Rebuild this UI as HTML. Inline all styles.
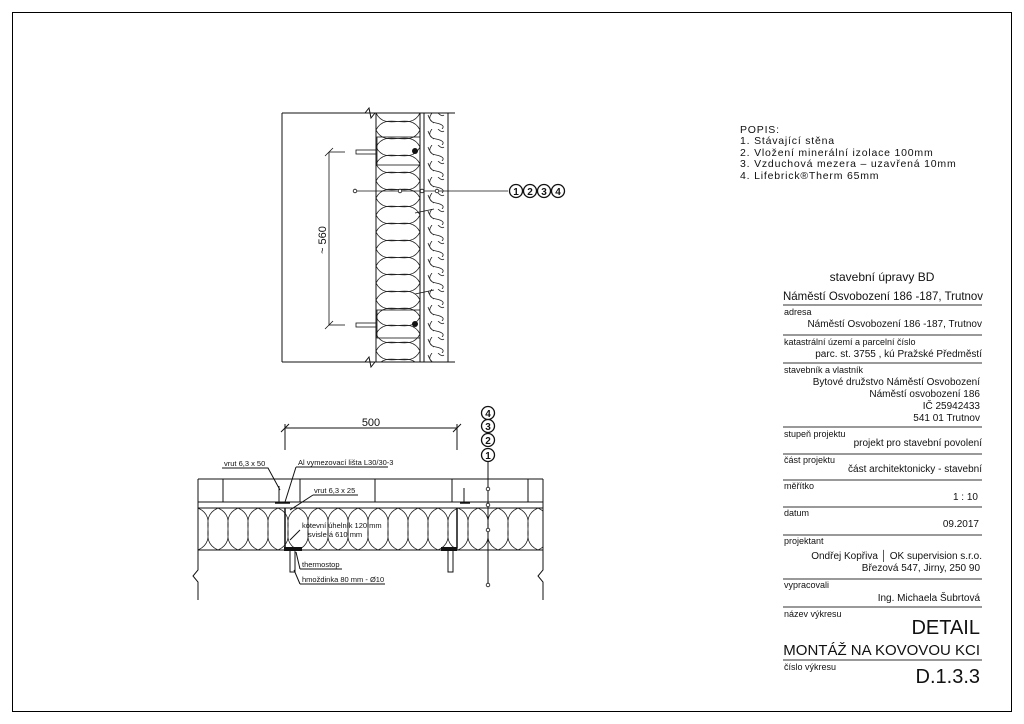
<!DOCTYPE html>
<html><head><meta charset="utf-8"><style>
html,body{margin:0;padding:0;background:#fff}
svg{display:block}
text{font-family:"Liberation Sans",sans-serif;fill:#111}
</style></head><body>
<svg width="1024" height="724" viewBox="0 0 1024 724" xmlns="http://www.w3.org/2000/svg">
<defs>
<pattern id="ih" x="198" y="508" width="20" height="42" patternUnits="userSpaceOnUse">
<path d="M0,0 C22,10 -2,32 20,42 M20,0 C-2,10 22,32 0,42" fill="none" stroke="#222" stroke-width="0.8"/>
</pattern>
<pattern id="iv" x="376" y="113" width="44" height="17" patternUnits="userSpaceOnUse">
<path d="M0,0 C10,20 34,-3 44,17 M0,17 C10,-3 34,20 44,0" fill="none" stroke="#222" stroke-width="0.8"/>
</pattern>
<pattern id="cl" x="424" y="113" width="24" height="16" patternUnits="userSpaceOnUse">
<path d="M8,0 q-6,8 4,10 q10,2 6,6 M4,2 q2,6 6,8 M14,0 q4,4 6,2" fill="none" stroke="#222" stroke-width="0.8"/>
</pattern>
</defs>
<rect x="12.5" y="12.5" width="999" height="699" fill="none" stroke="#000" stroke-width="1"/>

<!-- upper section -->
<rect x="376" y="113" width="44" height="249" fill="url(#iv)"/>
<rect x="425" y="113" width="22" height="249" fill="url(#cl)"/>
<g stroke="#111" stroke-width="1" fill="none">
<line x1="282" y1="113" x2="455" y2="113"/>
<line x1="282" y1="362" x2="455" y2="362"/>
<line x1="282" y1="113" x2="282" y2="362"/>
<path d="M365,113 l4,-5 l2,10 l4,-5" />
<path d="M365,362 l4,-5 l2,10 l4,-5" />
<line x1="376" y1="113" x2="376" y2="362"/>
<line x1="420" y1="113" x2="420" y2="362"/>
<line x1="424" y1="113" x2="424" y2="362"/>
<line x1="448" y1="113" x2="448" y2="362"/>
</g>
<g stroke="#111" stroke-width="0.8" fill="none">
<rect x="377" y="137" width="43" height="28"/>
<rect x="377" y="310" width="43" height="28"/>
<line x1="329" y1="152" x2="329" y2="325"/>
<line x1="325" y1="156" x2="333" y2="148"/>
<line x1="325" y1="329" x2="333" y2="321"/>
<line x1="329" y1="152" x2="345" y2="152"/>
<line x1="329" y1="325" x2="345" y2="325"/>
<rect x="356" y="150" width="20" height="4"/>
<rect x="356" y="323" width="20" height="4"/>
<line x1="355" y1="191" x2="508" y2="191"/>
<line x1="415" y1="213" x2="434" y2="209"/>
<line x1="415" y1="294" x2="434" y2="290"/>
</g>
<circle cx="415" cy="151" r="3" fill="#111"/>
<circle cx="415" cy="324" r="3" fill="#111"/>
<g fill="#fff" stroke="#111" stroke-width="0.8">
<circle cx="355" cy="191" r="1.8"/><circle cx="400" cy="191" r="1.8"/><circle cx="422" cy="191" r="1.8"/><circle cx="437" cy="191" r="1.8"/>
</g>
<g fill="#fff" stroke="#111" stroke-width="1.3">
<circle cx="516" cy="191" r="6.5"/><circle cx="530" cy="191" r="6.5"/><circle cx="544" cy="191" r="6.5"/><circle cx="558" cy="191" r="6.5"/>
</g>
<g font-size="10" font-weight="bold" text-anchor="middle">
<text x="516" y="195">1</text><text x="530" y="195">2</text><text x="544" y="195">3</text><text x="558" y="195">4</text>
</g>
<text x="0" y="0" font-size="11" transform="translate(326,240) rotate(-90)" text-anchor="middle">~ 560</text>

<!-- lower section -->
<rect x="198" y="508" width="345" height="42" fill="url(#ih)"/>
<g stroke="#111" stroke-width="1" fill="none">
<line x1="198" y1="479" x2="543" y2="479"/>
<line x1="198" y1="502" x2="543" y2="502"/>
<line x1="198" y1="508" x2="543" y2="508"/>
<line x1="198" y1="550" x2="543" y2="550"/>
<line x1="223" y1="479" x2="223" y2="502"/><line x1="300" y1="479" x2="300" y2="502"/>
<line x1="375" y1="479" x2="375" y2="502"/><line x1="452" y1="479" x2="452" y2="502"/>
<line x1="528" y1="479" x2="528" y2="502"/>
<path d="M198,479 V570 l-5,6 l5,6 V600"/>
<path d="M543,479 V570 l-5,6 l5,6 V600"/>
<line x1="285" y1="428" x2="457" y2="428"/>
<line x1="285" y1="424" x2="285" y2="450"/><line x1="457" y1="424" x2="457" y2="450"/>
<line x1="281" y1="432" x2="289" y2="424"/><line x1="453" y1="432" x2="461" y2="424"/>
<path d="M285,508 V548 H300" stroke-width="1.5"/>
<path d="M457,508 V548 H442" stroke-width="1.5"/>
<line x1="275" y1="503" x2="290" y2="503" stroke-width="1.5"/>
<line x1="460" y1="503" x2="470" y2="503" stroke-width="1.5"/>
<rect x="290" y="550" width="5" height="22"/>
<rect x="448" y="550" width="5" height="22"/>
<line x1="279" y1="486" x2="279" y2="502"/>
<line x1="464" y1="488" x2="464" y2="502"/>
<line x1="488" y1="462" x2="488" y2="585"/>
<path d="M222,468 H268 L280,490"/>
<path d="M296,467 H388 M296,467 L285,502"/>
<path d="M313,495 H358 M313,495 L290,510"/>
<path d="M300,530 L290,540"/>
<path d="M300,569 H342 M300,569 L296,552"/>
<path d="M300,584 H385 M300,584 L294,570"/>
</g>
<rect x="284" y="547" width="18" height="4" fill="#111"/>
<rect x="441" y="547" width="16" height="4" fill="#111"/>
<g fill="#fff" stroke="#111" stroke-width="0.8">
<circle cx="488" cy="489" r="1.8"/><circle cx="488" cy="505" r="1.8"/><circle cx="488" cy="530" r="1.8"/><circle cx="488" cy="585" r="1.8"/>
</g>
<g fill="#fff" stroke="#111" stroke-width="1.3">
<circle cx="488" cy="413" r="6.5"/><circle cx="488" cy="426" r="6.5"/><circle cx="488" cy="440" r="6.5"/><circle cx="488" cy="455" r="6.5"/>
</g>
<g font-size="10" font-weight="bold" text-anchor="middle">
<text x="488" y="417">4</text><text x="488" y="430">3</text><text x="488" y="444">2</text><text x="488" y="459">1</text>
</g>
<text x="371" y="426" font-size="11" text-anchor="middle">500</text>
<g font-size="7.5">
<text x="224" y="466">vrut 6,3 x 50</text>
<text x="298" y="465">Al vymezovací lišta L30/30-3</text>
<text x="314" y="493">vrut 6,3 x 25</text>
<text x="302" y="528">kotevní úhelník 120 mm</text>
<text x="308" y="537">svisle á 610 mm</text>
<text x="302" y="567">thermostop</text>
<text x="302" y="582">hmoždinka 80 mm - Ø10</text>
</g>

<!-- POPIS -->
<g font-size="10.5" letter-spacing="0.8">
<text x="740" y="133">POPIS:</text>
<text x="740" y="144">1. Stávající stěna</text>
<text x="740" y="156">2. Vložení minerální izolace 100mm</text>
<text x="740" y="167">3. Vzduchová mezera – uzavřená 10mm</text>
<text x="740" y="179">4. Lifebrick®Therm 65mm</text>
</g>

<!-- title block -->
<g stroke="#333" stroke-width="1">
<line x1="783" y1="305" x2="982" y2="305"/><line x1="783" y1="335" x2="982" y2="335"/>
<line x1="783" y1="363" x2="982" y2="363"/><line x1="783" y1="427" x2="982" y2="427"/>
<line x1="783" y1="454" x2="982" y2="454"/><line x1="783" y1="480" x2="982" y2="480"/>
<line x1="783" y1="507" x2="982" y2="507"/><line x1="783" y1="535" x2="982" y2="535"/>
<line x1="783" y1="579" x2="982" y2="579"/><line x1="783" y1="607" x2="982" y2="607"/>
<line x1="783" y1="660" x2="982" y2="660"/>
</g>
<g font-size="12" text-anchor="middle">
<text x="882" y="281">stavební úpravy BD</text>
<text x="883" y="300" textLength="200" lengthAdjust="spacingAndGlyphs">Náměstí Osvobození 186 -187, Trutnov</text>
</g>
<g font-size="9">
<text x="784" y="315">adresa</text>
<text x="784" y="345">katastrální území a parcelní číslo</text>
<text x="784" y="373">stavebník a vlastník</text>
<text x="784" y="437">stupeň projektu</text>
<text x="784" y="463">část projektu</text>
<text x="784" y="489">měřítko</text>
<text x="784" y="516">datum</text>
<text x="784" y="544">projektant</text>
<text x="784" y="588">vypracovali</text>
<text x="784" y="617">název výkresu</text>
<text x="784" y="670">číslo výkresu</text>
</g>
<g font-size="10" text-anchor="end">
<text x="982" y="327">Náměstí Osvobození 186 -187, Trutnov</text>
<text x="982" y="357">parc. st. 3755 , kú Pražské Předměstí</text>
<text x="980" y="385">Bytové družstvo Náměstí Osvobození</text>
<text x="980" y="397">Náměstí osvobození 186</text>
<text x="980" y="409">IČ 25942433</text>
<text x="980" y="421">541 01 Trutnov</text>
<text x="982" y="446">projekt pro stavební povolení</text>
<text x="982" y="472">část architektonicky - stavební</text>
<text x="978" y="500">1 : 10</text>
<text x="979" y="527">09.2017</text>
<text x="982" y="559">Ondřej Kopřiva │ OK supervision s.r.o.</text>
<text x="980" y="571">Březová 547, Jirny, 250 90</text>
<text x="980" y="601">Ing. Michaela Šubrtová</text>
</g>
<g text-anchor="end">
<text x="980" y="634" font-size="20">DETAIL</text>
<text x="980" y="655" font-size="15">MONTÁŽ NA KOVOVOU KCI</text>
<text x="980" y="683" font-size="20">D.1.3.3</text>
</g>
</svg>
</body></html>
